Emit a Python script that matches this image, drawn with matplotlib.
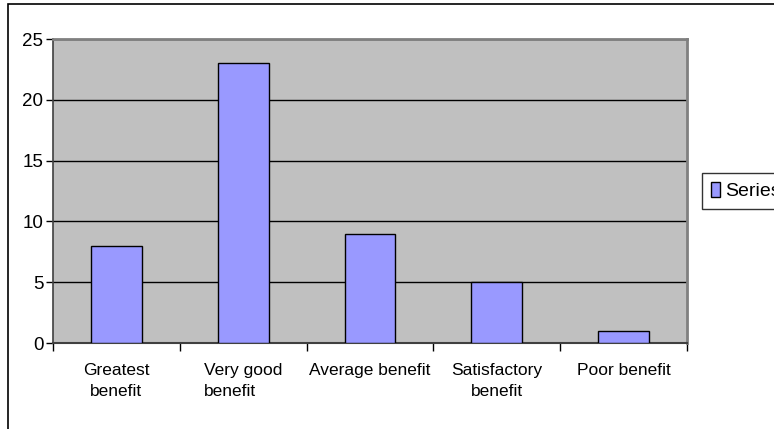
import matplotlib.pyplot as plt
import numpy as np
from matplotlib.patches import Rectangle

categories = ["Greatest\nbenefit", "Very good\nbenefit", "Average benefit",
              "Satisfactory\nbenefit", "Poor benefit"]
label_align = ["center", "left", "center", "center", "center"]
values = [8, 23, 9, 5, 1]
series_name = "Series1"
y_ticks = [0, 5, 10, 15, 20, 25]

plt.rcParams['font.family'] = ['Liberation Sans', 'DejaVu Sans']

fig = plt.figure(figsize=(7.74, 4.29), dpi=100)
ax = fig.add_axes([53 / 774, 1 - 343 / 429, 634 / 774, 304 / 429])
ax.set_facecolor('#C0C0C0')

x = np.arange(len(values))
ax.bar(x, values, width=0.4, color='#9999FF', edgecolor='#000000',
       linewidth=1.0, label=series_name, zorder=3)

ax.set_xlim(-0.5, len(values) - 0.5)
ax.set_ylim(0, 25)
ax.set_yticks(y_ticks)
ax.set_yticklabels([str(t) for t in y_ticks], fontsize=13.5)
ax.yaxis.grid(True, color='#000000', linewidth=1.0, zorder=1)
ax.set_axisbelow(True)

# category labels under the axis, tick marks between categories
ax.set_xticks(x)
ax.set_xticklabels(categories, fontsize=12.5, linespacing=1.45)
for lbl, al in zip(ax.get_xticklabels(), label_align):
    lbl.set_multialignment(al)
ax.tick_params(axis='x', which='major', length=0, pad=14.5)
ax.set_xticks(np.arange(-0.5, len(values)), minor=True)
ax.tick_params(axis='x', which='minor', length=6, width=1, color='#000000',
               direction='out')
ax.tick_params(axis='y', length=5, width=1, color='#000000', pad=2)

for side in ['top', 'right']:
    ax.spines[side].set_color('#808080')
    ax.spines[side].set_linewidth(2)
ax.spines['left'].set_color('#404040')
ax.spines['bottom'].set_color('#404040')
ax.spines['left'].set_linewidth(1.2)
ax.spines['bottom'].set_linewidth(1.5)

leg = fig.legend(loc='upper left', bbox_to_anchor=(702 / 774, 1 - 173 / 429),
                 fontsize=14, frameon=True, fancybox=False, handlelength=0.45,
                 handleheight=0.85, handletextpad=0.3, borderpad=0.45,
                 borderaxespad=0)
leg.get_frame().set_edgecolor('#000000')
leg.get_frame().set_linewidth(1.0)

# outer chart frame
fig.add_artist(Rectangle((8 / 774, -0.2), 1.2, 1.2 - 4 / 429,
                         transform=fig.transFigure, fill=False,
                         edgecolor='#000000', linewidth=1.2))

fig.savefig('out.png', dpi=100)
